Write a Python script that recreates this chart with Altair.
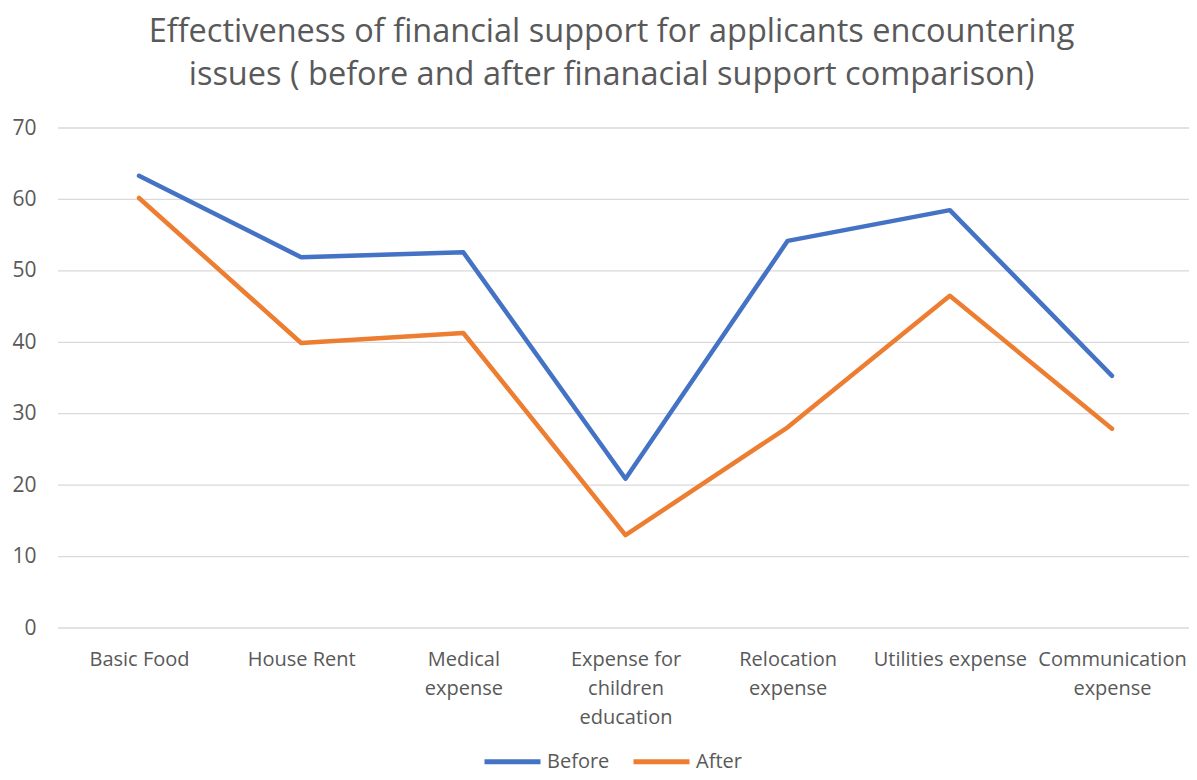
import json
import altair as alt
import pandas as pd

categories = ["Basic Food", "House Rent", "Medical expense", "Expense for children education",
              "Relocation expense", "Utilities expense", "Communication expense"]
tick_labels = [["Basic Food"], ["House Rent"], ["Medical", "expense"],
               ["Expense for", "children", "education"], ["Relocation", "expense"],
               ["Utilities expense"], ["Communication", "expense"]]
before = [63.3, 51.9, 52.6, 20.9, 54.2, 58.5, 35.3]
after = [60.2, 39.9, 41.3, 13.0, 28.1, 46.5, 27.9]
series = ["Before", "After"]
colors = ["#4472C4", "#ED7D31"]
y_ticks = [0, 10, 20, 30, 40, 50, 60, 70]

rows = []
for c, b, a in zip(categories, before, after):
    rows.append({"cat": c, "series": "Before", "value": b})
    rows.append({"cat": c, "series": "After", "value": a})
df = pd.DataFrame(rows)
grid_df = pd.DataFrame({"value": y_ticks})

label_map = json.dumps(dict(zip(categories, tick_labels)))
FONT = "Open Sans"
GREY = "#595959"
W, H = 1131, 500

yscale = alt.Scale(domain=[0, 70])

grid = alt.Chart(grid_df).mark_rule(color="#D9D9D9", strokeWidth=1.3).encode(
    y=alt.Y("value:Q", scale=yscale, title=None),
    x=alt.value(0), x2=alt.value(W),
)

lines = alt.Chart(df).mark_line(strokeWidth=4.5, strokeCap="round", strokeJoin="round").encode(
    x=alt.X("cat:N", sort=categories, title=None,
            scale=alt.Scale(type="point", padding=0, range=[81, 1054]),
            axis=alt.Axis(labelAngle=0, labelExpr=f"{label_map}[datum.label]",
                          labelFont=FONT, labelFontSize=20, labelColor=GREY,
                          labelLineHeight=29, labelPadding=21, ticks=False,
                          domain=False, grid=False, labelLimit=250)),
    y=alt.Y("value:Q", title=None, scale=yscale,
            axis=alt.Axis(values=y_ticks, ticks=False, domain=False, grid=False,
                          labelFont=FONT, labelFontSize=21, labelColor=GREY, labelPadding=22)),
    color=alt.Color("series:N", sort=series,
                    scale=alt.Scale(domain=series, range=colors),
                    legend=alt.Legend(title=None, orient="none", direction="horizontal",
                                      legendX=424, legendY=603,
                                      symbolType="stroke", symbolSize=3136,
                                      symbolStrokeWidth=5, labelFont=FONT, labelFontSize=20,
                                      labelColor=GREY, labelOffset=4, columnPadding=13)),
)

chart = alt.layer(grid, lines).properties(
    width=W, height=H,
    title=alt.TitleParams(
        text=["Effectiveness of financial support for applicants encountering",
              "issues ( before and after finanacial support comparison)"],
        font=FONT, fontSize=32.5, fontWeight="normal", color=GREY,
        anchor="middle", dx=-12, offset=26, lineHeight=43),
    autosize=alt.AutoSizeParams(type="none"),
    padding={"left": 50, "top": 120, "right": 0, "bottom": 144},
).configure_view(stroke=None)

chart.save("out.html", embed_options={"renderer": "svg", "actions": False})
